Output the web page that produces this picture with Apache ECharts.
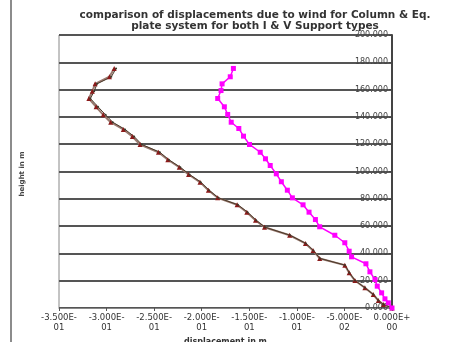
<!DOCTYPE html>
<html><head><meta charset="utf-8">
<script src="https://cdn.jsdelivr.net/npm/echarts@6/dist/echarts.min.js"></script>
<style>html,body{margin:0;padding:0;background:#fff}#c{width:472px;height:342px}</style>
</head><body><div id="c"></div>
<script>
var titleLines = ['comparison of displacements due to wind for Column & Eq.', 'plate system for both I & V Support types'];
var xAxisName = 'displacement in m';
var yAxisName = 'height in m';
var yTicks = [0, 20, 40, 60, 80, 100, 120, 140, 160, 180, 200];
var xTicks = [-0.35, -0.30, -0.25, -0.20, -0.15, -0.10, -0.05, 0];

var heightsColumn = [175.5,169.4,164.2,158.8,153.5,147.4,141.5,136.1,130.8,125.6,119.8,114.1,108.6,103.1,97.8,92.2,86.3,80.7,75.6,70.2,64.3,59.2,53.3,47.3,42.1,36.3,31.4,25.8,20.1,14.8,9.9,5.5,2.6,0];
var dispColumnI = [-0.292,-0.297,-0.312,-0.315,-0.3186,-0.311,-0.3035,-0.2957,-0.2824,-0.2729,-0.2648,-0.2455,-0.2356,-0.2236,-0.2138,-0.2018,-0.193,-0.1832,-0.1628,-0.1526,-0.1435,-0.134,-0.1076,-0.091,-0.083,-0.076,-0.0496,-0.045,-0.039,-0.0285,-0.0197,-0.0144,-0.009,0];
var dispColumnV = [-0.290,-0.295,-0.310,-0.313,-0.3170,-0.309,-0.3010,-0.2935,-0.2805,-0.2710,-0.2630,-0.2440,-0.2345,-0.2225,-0.2128,-0.2010,-0.1922,-0.1825,-0.1620,-0.1518,-0.1428,-0.1335,-0.1072,-0.0905,-0.0826,-0.0757,-0.0494,-0.0448,-0.0388,-0.0284,-0.0196,-0.0143,-0.0089,0];
var heightsPlate = [175.5,169.4,164.2,159.3,153.5,147.4,141.8,136.1,131.5,125.9,119.8,114.1,109.3,104.4,98.3,92.5,86.3,80.7,75.6,70.2,64.8,59.5,53.3,47.8,41.6,37.5,32.4,26.5,20.9,16,11.1,6.7,3.8,0];
var dispPlate = [-0.1667,-0.170,-0.1786,-0.1797,-0.1832,-0.1762,-0.1727,-0.169,-0.161,-0.1561,-0.1498,-0.1385,-0.133,-0.128,-0.1216,-0.1163,-0.11,-0.1047,-0.0935,-0.0872,-0.0805,-0.076,-0.0601,-0.0496,-0.045,-0.0425,-0.0274,-0.0232,-0.0179,-0.0155,-0.0109,-0.0074,-0.0039,0];

function pairs(xs, ys){ return xs.map(function(v,i){ return [v, ys[i]]; }); }
function expFmt(v){
  if (Math.abs(v) < 1e-12) return '0.000E+\n00';
  var s = v.toExponential(3);
  var parts = s.split('e');
  var e = parseInt(parts[1],10);
  var sign = e < 0 ? '-' : '+';
  var ae = Math.abs(e); var es = ae < 10 ? '0' + ae : '' + ae;
  return parts[0] + 'E' + sign + '\n' + es;
}
var FONT = 'DejaVu Sans, Verdana, sans-serif';

var chart = echarts.init(document.getElementById('c'));
chart.setOption({
  animation: false,
  backgroundColor: '#fff',
  title: {
    text: titleLines.join('\n'),
    left: 250, top: 5, textAlign: 'center',
    textStyle: { fontFamily: FONT, fontWeight: 'bold', fontSize: 10.5, color: '#333', lineHeight: 11 }
  },
  grid: { left: 59, right: 80, top: 35, bottom: 34, show: true, borderColor: '#888', borderWidth: 1, containLabel: false, outerBoundsMode: 'none' },
  xAxis: {
    type: 'value', min: xTicks[0], max: xTicks[xTicks.length-1], interval: 0.05,
    axisLine: { show: true, onZero: false, lineStyle: { color: '#888', width: 1 } },
    axisTick: { show: true, length: 3, lineStyle: { color: '#555' } },
    splitLine: { show: false },
    axisLabel: { formatter: expFmt, fontFamily: FONT, fontSize: 8.5, color: '#333', lineHeight: 10, margin: 5 },
    name: xAxisName, nameLocation: 'middle', nameGap: 29,
    nameTextStyle: { fontFamily: FONT, fontSize: 8, fontWeight: 'bold', color: '#333' }
  },
  yAxis: {
    type: 'value', position: 'right', min: yTicks[0], max: yTicks[yTicks.length-1], interval: 20,
    axisLine: { show: true, onZero: false, lineStyle: { color: '#444', width: 2 } },
    axisTick: { show: true, inside: true, length: 3, lineStyle: { color: '#444' } },
    splitLine: { show: true, lineStyle: { color: '#555', width: 2 } },
    axisLabel: { inside: true, formatter: function(v){ return v.toFixed(3); }, fontFamily: FONT, fontSize: 8, color: '#444', margin: 4 }
  },
  graphic: [
    { type: 'line', shape: { x1: 11, y1: 0, x2: 11, y2: 342 }, style: { stroke: '#666', lineWidth: 1.5 } },
    { type: 'text', x: 22, y: 174, rotation: Math.PI/2, style: { text: yAxisName, fontFamily: FONT, fontSize: 7, fontWeight: 'bold', fill: '#444', textAlign: 'center', textVerticalAlign: 'middle' } }
  ],
  series: [
    { name: 'Column I', type: 'line', data: pairs(dispColumnI, heightsColumn),
      lineStyle: { color: '#9a7a70', width: 2 }, itemStyle: { color: '#8b1a1a' },
      symbol: 'triangle', symbolSize: 5, showSymbol: true },
    { name: 'Column V', type: 'line', data: pairs(dispColumnV, heightsColumn),
      lineStyle: { color: '#4a3a2a', width: 1 }, itemStyle: { color: '#3a3a2a' },
      symbol: 'circle', symbolSize: 2, showSymbol: true },
    { name: 'Eq. plate', type: 'line', data: pairs(dispPlate, heightsPlate),
      lineStyle: { color: '#ff00ff', width: 1.5 }, itemStyle: { color: '#ff00ff' },
      symbol: 'rect', symbolSize: 5, showSymbol: true }
  ]
});
</script>
</body></html>
